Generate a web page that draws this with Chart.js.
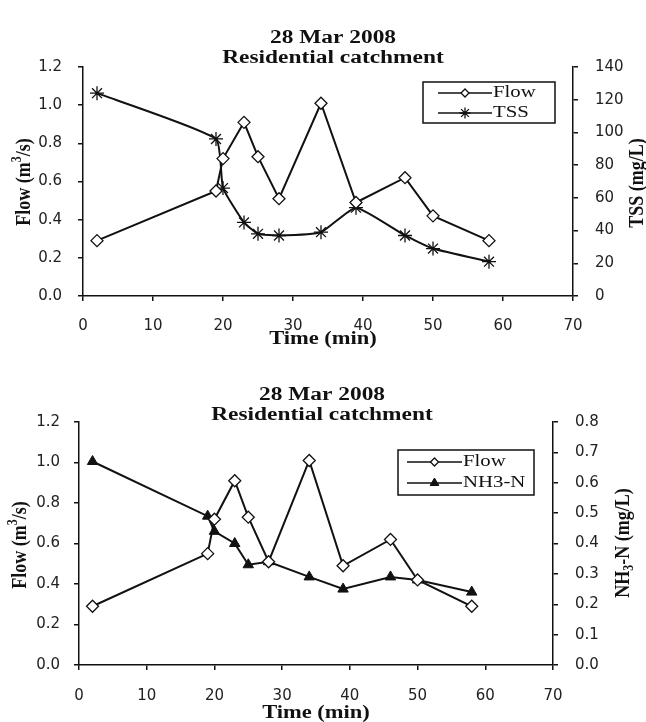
<!DOCTYPE html>
<html>
<head>
<meta charset="utf-8">
<script src="https://cdn.jsdelivr.net/npm/chart.js@4.4.0/dist/chart.umd.min.js"></script>
<style>
  body { margin: 0; background: #fff; }
  canvas { display: block; position: absolute; left: 0; }
  #tssChart { top: 0; }
  #nh3Chart { top: 360px; }
</style>
</head>
<body>
<canvas id="tssChart" width="646" height="360"></canvas>
<canvas id="nh3Chart" width="646" height="362"></canvas>
<script>
// Sampling times (min)
const timeMin = [2, 19, 20, 23, 25, 28, 34, 39, 46, 50, 58];
// Flow (m3/s)
const flowValues = [0.29, 0.55, 0.72, 0.91, 0.73, 0.51, 1.01, 0.49, 0.62, 0.42, 0.29];
// TSS (mg/L)
const tssValues = [124, 96, 66, 45, 38, 37, 39, 54, 37, 29, 21];
// NH3-N (mg/L)
const nh3Values = [0.67, 0.49, 0.44, 0.40, 0.33, 0.34, 0.29, 0.25, 0.29, 0.28, 0.24];

// Tick labels
const timeTicks = [0, 10, 20, 30, 40, 50, 60, 70];
const flowTicks = [0, 0.2, 0.4, 0.6, 0.8, 1.0, 1.2];
const tssTicks = [0, 20, 40, 60, 80, 100, 120, 140];
const nh3Ticks = [0, 0.1, 0.2, 0.3, 0.4, 0.5, 0.6, 0.7, 0.8];

const titleLines = ['28 Mar 2008', 'Residential catchment'];

const TICK_FONT = '15px "DejaVu Sans", sans-serif';
Chart.defaults.font.family = '"DejaVu Sans", sans-serif';
Chart.defaults.font.size = 15;
Chart.defaults.color = '#222';

const INK = '#111';

// draw text made of parts (for super/subscripts), optionally rotated / stretched
function drawRich(ctx, parts, x, y, opt) {
    ctx.save();
    ctx.translate(x, y);
    if (opt.rotate) ctx.rotate(opt.rotate);
    ctx.scale(opt.sx || 1, opt.sy || 1);
    ctx.fillStyle = INK;
    ctx.textBaseline = 'middle';
    ctx.textAlign = 'left';
    const fontFor = p => `${opt.weight || 'normal'} ${(p.sup || p.sub) ? Math.round(opt.size * 0.65) : opt.size}px "Liberation Serif", serif`;
    let w = 0;
    parts.forEach(p => { ctx.font = fontFor(p); w += ctx.measureText(p.text).width; });
    let cx = opt.align === 'left' ? 0 : -w / 2;
    parts.forEach(p => {
        ctx.font = fontFor(p);
        const dy = p.sup ? -opt.size * 0.3 : (p.sub ? opt.size * 0.28 : 0);
        ctx.fillText(p.text, cx, dy);
        cx += ctx.measureText(p.text).width;
    });
    ctx.restore();
}

function drawMarker(ctx, ds, r, x, y) {
    ctx.save();
    ctx.fillStyle = ds.pointBackgroundColor;
    ctx.strokeStyle = ds.pointBorderColor;
    ctx.lineWidth = ds.pointBorderWidth;
    Chart.helpers.drawPoint(ctx, { pointStyle: ds.pointStyle, radius: r, borderWidth: ds.pointBorderWidth, rotation: 0 }, x, y);
    ctx.restore();
}

// titles, axis titles, right-axis labels and the boxed legend
const decorPlugin = {
    id: 'decor',
    afterDraw(chart, args, o) {
        const ctx = chart.ctx;
        // chart title
        titleLines.forEach((t, i) => {
            drawRich(ctx, [{ text: t }], o.titleX, o.titleY[i], { size: 18, weight: 'bold', sx: 1.3 });
        });
        // axis titles
        drawRich(ctx, [{ text: 'Time (min)' }], o.xTitle[0], o.xTitle[1], { size: 18, weight: 'bold', sx: 1.25 });
        drawRich(ctx, [{ text: 'Flow (m' }, { text: '3', sup: true }, { text: '/s)' }], o.yTitle[0], o.yTitle[1],
            { size: 18, weight: 'bold', rotate: -Math.PI / 2, sy: 1.2 });
        drawRich(ctx, o.y2Parts, o.y2Title[0], o.y2Title[1],
            { size: 18, weight: 'bold', rotate: -Math.PI / 2, sy: 1.2 });

        // right axis tick labels, placed from the y2 scale
        const s = chart.scales.y2;
        ctx.save();
        ctx.font = TICK_FONT;
        ctx.fillStyle = '#222';
        ctx.textAlign = 'left';
        ctx.textBaseline = 'middle';
        s.ticks.forEach(t => {
            ctx.fillText(o.y2Fmt(t.value), s.left + o.y2Gap, s.getPixelForValue(t.value));
        });
        ctx.restore();

        // legend box
        const lg = o.legend;
        ctx.save();
        ctx.fillStyle = '#fff';
        ctx.fillRect(lg.x, lg.y, lg.w, lg.h);
        ctx.strokeStyle = INK;
        ctx.lineWidth = 1.5;
        ctx.strokeRect(lg.x, lg.y, lg.w, lg.h);
        chart.data.datasets.forEach((ds, i) => {
            const ry = lg.rowY[i];
            ctx.beginPath();
            ctx.moveTo(lg.x1, ry);
            ctx.lineTo(lg.x2, ry);
            ctx.strokeStyle = INK;
            ctx.lineWidth = 1.5;
            ctx.stroke();
            drawMarker(ctx, ds, lg.markerR[i], (lg.x1 + lg.x2) / 2, ry);
            drawRich(ctx, [{ text: ds.label }], lg.x2 + 1, ry, { size: 16, sx: 1.3, align: 'left' });
        });
        ctx.restore();
    }
};

function points(ys) {
    return timeMin.map((t, i) => ({ x: t, y: ys[i] }));
}

function flowDataset() {
    return {
        label: 'Flow',
        data: points(flowValues),
        yAxisID: 'y',
        borderColor: INK,
        borderWidth: 2,
        pointStyle: 'rectRot',
        pointRadius: 6,
        pointBackgroundColor: '#fff',
        pointBorderColor: INK,
        pointBorderWidth: 1.3,
        tension: 0
    };
}

function axisStyle() {
    return {
        grid: { drawOnChartArea: false, color: INK, lineWidth: 1.5, tickLength: 5 },
        border: { color: INK, width: 1.5 }
    };
}

function makeChart(id, second, sizes) {
    return new Chart(document.getElementById(id), {
        type: 'line',
        data: { datasets: [flowDataset(), second.dataset] },
        options: {
            responsive: false,
            animation: false,
            layout: { padding: { top: sizes.top, left: 0, right: 0, bottom: 0 } },
            plugins: {
                legend: { display: false },
                title: { display: false },
                tooltip: { enabled: false },
                decor: { ...sizes.decor, y2Fmt: second.fmt }
            },
            scales: {
                x: {
                    type: 'linear', min: 0, max: 70,
                    afterBuildTicks: s => { s.ticks = timeTicks.map(v => ({ value: v })); },
                    afterFit: s => { s.height = sizes.xHeight; },
                    ticks: { padding: sizes.xPad, maxRotation: 0, autoSkip: false },
                    ...axisStyle()
                },
                y: {
                    position: 'left', min: 0, max: 1.2,
                    afterBuildTicks: s => { s.ticks = flowTicks.map(v => ({ value: v })); },
                    afterFit: s => { s.width = sizes.yWidth; },
                    ticks: { padding: sizes.yPad, callback: v => v.toFixed(1) },
                    ...axisStyle()
                },
                y2: {
                    position: 'right', min: second.min, max: second.max,
                    afterBuildTicks: s => { s.ticks = second.ticks.map(v => ({ value: v })); },
                    afterFit: s => { s.width = sizes.y2Width; },
                    ticks: { display: false },
                    ...axisStyle()
                }
            }
        },
        plugins: [decorPlugin]
    });
}

// TSS chart
makeChart('tssChart', {
    min: 0, max: 140, ticks: tssTicks, fmt: v => String(v),
    dataset: {
        label: 'TSS',
        data: points(tssValues),
        yAxisID: 'y2',
        borderColor: INK,
        borderWidth: 2,
        pointStyle: 'star',
        pointRadius: 7,
        pointBackgroundColor: INK,
        pointBorderColor: INK,
        pointBorderWidth: 1.3,
        tension: 0.15
    }
}, {
    top: 67, xHeight: 64, yWidth: 83, y2Width: 73, xPad: 16, yPad: 16,
    decor: {
        titleX: 333, titleY: [38, 58],
        xTitle: [323, 339], yTitle: [24, 182],
        y2Title: [637, 183], y2Gap: 22,
        y2Parts: [{ text: 'TSS (mg/L)' }],
        legend: { x: 423, y: 82, w: 132, h: 41, rowY: [93, 113], x1: 438, x2: 492, markerR: [4, 5.5] }
    }
});

// NH3-N chart
makeChart('nh3Chart', {
    min: 0, max: 0.8, ticks: nh3Ticks, fmt: v => v.toFixed(1),
    dataset: {
        label: 'NH3-N',
        data: points(nh3Values),
        yAxisID: 'y2',
        borderColor: INK,
        borderWidth: 2,
        pointStyle: 'triangle',
        pointRadius: 6,
        pointBackgroundColor: INK,
        pointBorderColor: INK,
        pointBorderWidth: 1,
        tension: 0
    }
}, {
    top: 62, xHeight: 57, yWidth: 79, y2Width: 93, xPad: 17, yPad: 14,
    decor: {
        titleX: 322, titleY: [35, 55],
        xTitle: [316, 353], yTitle: [20, 185],
        y2Title: [623, 183], y2Gap: 22,
        y2Parts: [{ text: 'NH' }, { text: '3', sub: true }, { text: '-N (mg/L)' }],
        legend: { x: 398, y: 90, w: 136, h: 45, rowY: [102, 123], x1: 407, x2: 462, markerR: [4, 5] }
    }
});
</script>
</body>
</html>
